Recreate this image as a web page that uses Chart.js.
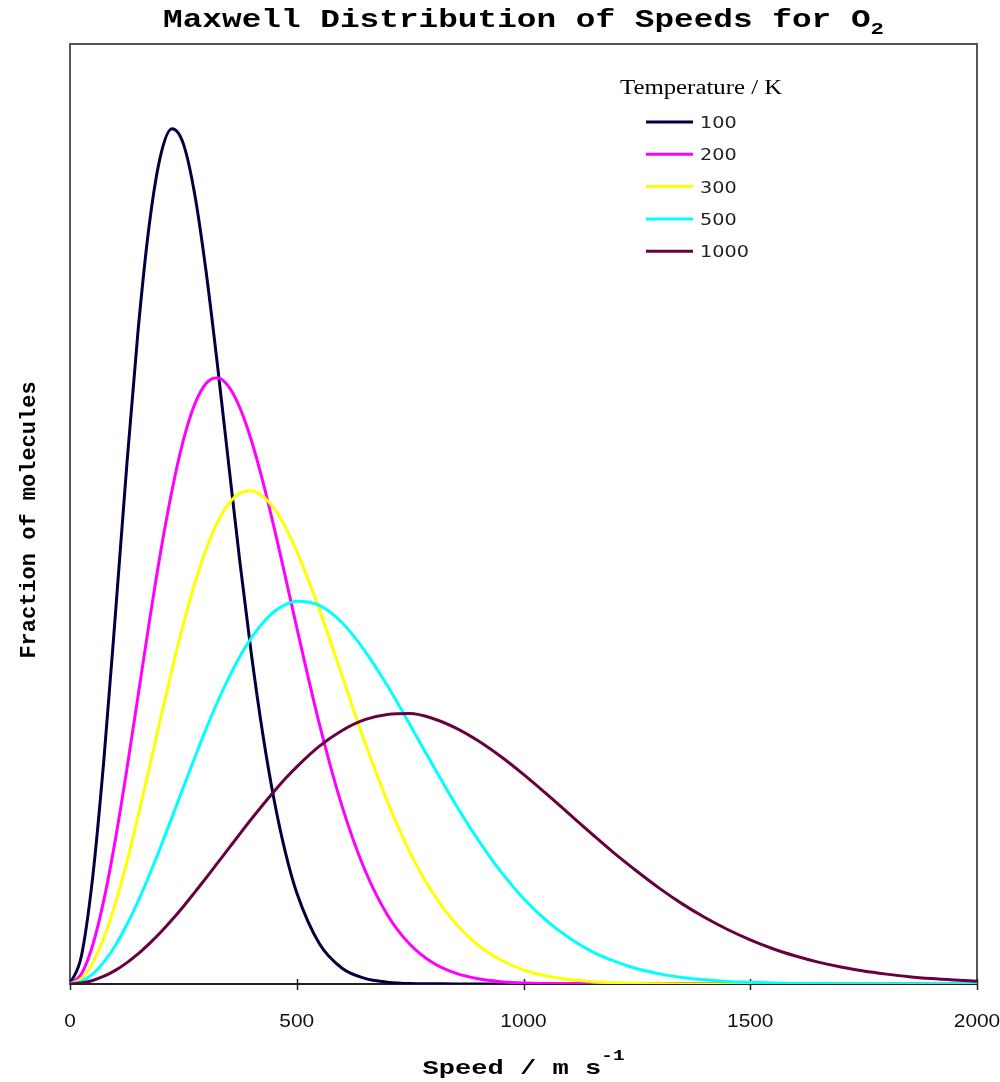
<!DOCTYPE html>
<html>
<head>
<meta charset="utf-8">
<script src="https://cdn.jsdelivr.net/npm/chart.js@4.4.1/dist/chart.umd.min.js"></script>
<style>
  html, body { margin: 0; padding: 0; background: #fff; }
  canvas { display: block; }
</style>
</head>
<body>
<canvas id="chart" width="1000" height="1082"></canvas>
<script>
// speed in m/s
const speeds = [
  0, 25, 50, 75, 100, 125, 150, 175, 200, 225, 250, 275, 300, 325, 350, 375, 400, 425, 450, 475, 500,
  550, 600, 650, 700, 750, 800, 850, 900, 950, 1000, 1050, 1100, 1150, 1200, 1250, 1300, 1350, 1400,
  1450, 1500, 1550, 1600, 1650, 1700, 1750, 1800, 1850, 1900, 1950, 2000
];

// fraction of molecules per m/s, in units of 1e-3
const frac100 = [
  0, 0.118, 0.454, 0.961, 1.570, 2.202, 2.778, 3.234, 3.527, 3.639, 3.575, 3.361, 3.033, 2.636, 2.210, 1.790, 1.403, 1.065, 0.784, 0.560, 0.388,
  0.171, 0.067, 0.024, 0.008, 0.002, 0.001, 0, 0, 0, 0, 0, 0, 0, 0, 0, 0, 0, 0,
  0, 0, 0, 0, 0, 0, 0, 0, 0, 0, 0, 0
];
const frac200 = [
  0, 0.042, 0.165, 0.360, 0.614, 0.909, 1.225, 1.542, 1.840, 2.101, 2.314, 2.467, 2.555, 2.580, 2.542, 2.450, 2.313, 2.140, 1.943, 1.732, 1.517,
  1.106, 0.756, 0.486, 0.294, 0.168, 0.090, 0.046, 0.022, 0.010, 0.004, 0.002, 0.001, 0, 0, 0, 0, 0, 0,
  0, 0, 0, 0, 0, 0, 0, 0, 0, 0, 0, 0
];
const frac300 = [
  0, 0.023, 0.090, 0.199, 0.343, 0.517, 0.713, 0.921, 1.133, 1.339, 1.532, 1.704, 1.849, 1.964, 2.044, 2.089, 2.099, 2.076, 2.024, 1.944, 1.842,
  1.592, 1.311, 1.030, 0.776, 0.559, 0.387, 0.258, 0.165, 0.102, 0.060, 0.034, 0.019, 0.010, 0.005, 0.0025, 0.001, 0, 0,
  0, 0, 0, 0, 0, 0, 0, 0, 0, 0, 0, 0
];
const frac500 = [
  0, 0.011, 0.042, 0.094, 0.164, 0.251, 0.352, 0.464, 0.584, 0.710, 0.837, 0.963, 1.085, 1.199, 1.303, 1.395, 1.473, 1.536, 1.584, 1.614, 1.629,
  1.611, 1.537, 1.418, 1.269, 1.102, 0.931, 0.765, 0.613, 0.478, 0.364, 0.271, 0.197, 0.139, 0.097, 0.065, 0.043, 0.028, 0.018,
  0.011, 0.007, 0.004, 0.002, 0.001, 0, 0, 0, 0, 0, 0, 0
];
const frac1000 = [
  0, 0.004, 0.015, 0.033, 0.058, 0.090, 0.128, 0.172, 0.220, 0.273, 0.330, 0.390, 0.451, 0.514, 0.577, 0.640, 0.702, 0.762, 0.819, 0.874, 0.924,
  1.012, 1.079, 1.125, 1.147, 1.151, 1.130, 1.090, 1.035, 0.968, 0.892, 0.810, 0.725, 0.640, 0.557, 0.480, 0.407, 0.341, 0.283,
  0.232, 0.188, 0.150, 0.119, 0.093, 0.072, 0.055, 0.042, 0.031, 0.023, 0.017, 0.012
];

const temps = ['100', '200', '300', '500', '1000'];
const series = [frac100, frac200, frac300, frac500, frac1000];
const colors = ['#000040', '#FF00FF', '#FFFF00', '#00FFFF', '#660040'];
const xTicks = [0, 500, 1000, 1500, 2000];

// text in the original is stretched sideways, so draw it with a horizontal scale
function drawText(ctx, str, x, y, font, sx, align) {
  ctx.save();
  ctx.font = font;
  const w = ctx.measureText(str).width * sx;
  let left = x;
  if (align === 'center') left = x - w / 2;
  if (align === 'right') left = x - w;
  ctx.translate(left, y);
  ctx.scale(sx, 1);
  ctx.textAlign = 'left';
  ctx.fillText(str, 0, 0);
  ctx.restore();
  return w;
}

function textWidth(ctx, str, font, sx) {
  ctx.save();
  ctx.font = font;
  const w = ctx.measureText(str).width * sx;
  ctx.restore();
  return w;
}

const decorations = {
  id: 'decorations',
  beforeDatasetsDraw(chart) {
    const { ctx, chartArea: a } = chart;
    ctx.save();
    ctx.strokeStyle = '#555';
    ctx.lineWidth = 2;
    ctx.strokeRect(a.left, a.top, a.right - a.left, a.bottom - a.top);
    ctx.strokeStyle = '#222';
    ctx.beginPath();
    ctx.moveTo(a.left, a.bottom);
    ctx.lineTo(a.right, a.bottom);
    ctx.stroke();
    // x ticks crossing the axis
    const sx = chart.scales.x;
    ctx.lineWidth = 1.5;
    sx.ticks.forEach(t => {
      const px = Math.round(sx.getPixelForValue(t.value)) + 0.5;
      ctx.beginPath();
      ctx.moveTo(px, a.bottom - 5);
      ctx.lineTo(px, a.bottom + 6);
      ctx.stroke();
    });
    ctx.restore();
  },
  afterDraw(chart) {
    const { ctx, chartArea: a } = chart;
    const cx = (a.left + a.right) / 2;
    ctx.save();
    ctx.fillStyle = '#000';

    // title with subscript
    const tFont = 'bold 25px "Liberation Mono", "Courier New", monospace';
    const sFont = 'bold 17px "Liberation Mono", "Courier New", monospace';
    const tMain = 'Maxwell Distribution of Speeds for O';
    const tw = textWidth(ctx, tMain, tFont, 1.31) + textWidth(ctx, '2', sFont, 1.31);
    let x0 = cx - tw / 2;
    x0 += drawText(ctx, tMain, x0, 27, tFont, 1.31, 'left');
    drawText(ctx, '2', x0, 34, sFont, 1.31, 'left');

    // x axis title with superscript
    const xFont = 'bold 21px "Liberation Mono", "Courier New", monospace';
    const supFont = 'bold 15px "Liberation Mono", "Courier New", monospace';
    const xMain = 'Speed / m s';
    const xw = textWidth(ctx, xMain, xFont, 1.29) + textWidth(ctx, '-1', supFont, 1.29);
    let x1 = cx - xw / 2;
    x1 += drawText(ctx, xMain, x1, 1074, xFont, 1.29, 'left');
    drawText(ctx, '-1', x1, 1060, supFont, 1.29, 'left');

    // y axis title
    ctx.save();
    ctx.translate(35, (a.top + a.bottom) / 2 + 6);
    ctx.rotate(-Math.PI / 2);
    drawText(ctx, 'Fraction of molecules', 0, 0, 'bold 22px "Liberation Mono", "Courier New", monospace', 1, 'center');
    ctx.restore();

    // x tick labels
    const sxs = chart.scales.x;
    ctx.fillStyle = '#111';
    sxs.ticks.forEach(t => {
      const px = sxs.getPixelForValue(t.value);
      drawText(ctx, String(t.value), px, 1027, '19px "Liberation Sans", Arial, sans-serif', 1.1, 'center');
    });

    // legend
    ctx.fillStyle = '#000';
    drawText(ctx, 'Temperature / K', 620, 94, '20px "Liberation Serif", "Times New Roman", serif', 1.24, 'left');
    chart.data.datasets.forEach((ds, i) => {
      const y = 122 + i * 32.3;
      ctx.strokeStyle = ds.borderColor;
      ctx.lineWidth = 3;
      ctx.beginPath();
      ctx.moveTo(646, y);
      ctx.lineTo(693, y);
      ctx.stroke();
      ctx.fillStyle = '#222';
      drawText(ctx, ds.label, 700, y + 6, '15px "DejaVu Sans", Verdana, sans-serif', 1.28, 'left');
    });
    ctx.restore();
  }
};

const datasets = series.map((vals, i) => ({
  label: temps[i],
  data: speeds.map((s, j) => ({ x: s, y: vals[j] })),
  borderColor: colors[i],
  backgroundColor: colors[i],
  borderWidth: 3,
  pointRadius: 0,
  cubicInterpolationMode: 'monotone',
  fill: false,
  order: series.length - i
}));

new Chart(document.getElementById('chart'), {
  type: 'line',
  data: { datasets },
  options: {
    responsive: false,
    animation: false,
    devicePixelRatio: 1,
    layout: { padding: { left: 70, top: 44, right: 23, bottom: 98 } },
    scales: {
      x: {
        type: 'linear',
        min: 0,
        max: 2000,
        display: false,
        afterBuildTicks(scale) {
          scale.ticks = xTicks.map(v => ({ value: v }));
        }
      },
      y: {
        min: 0,
        max: 4,
        display: false
      }
    },
    plugins: {
      legend: { display: false },
      tooltip: { enabled: false }
    }
  },
  plugins: [decorations]
});
</script>
</body>
</html>
